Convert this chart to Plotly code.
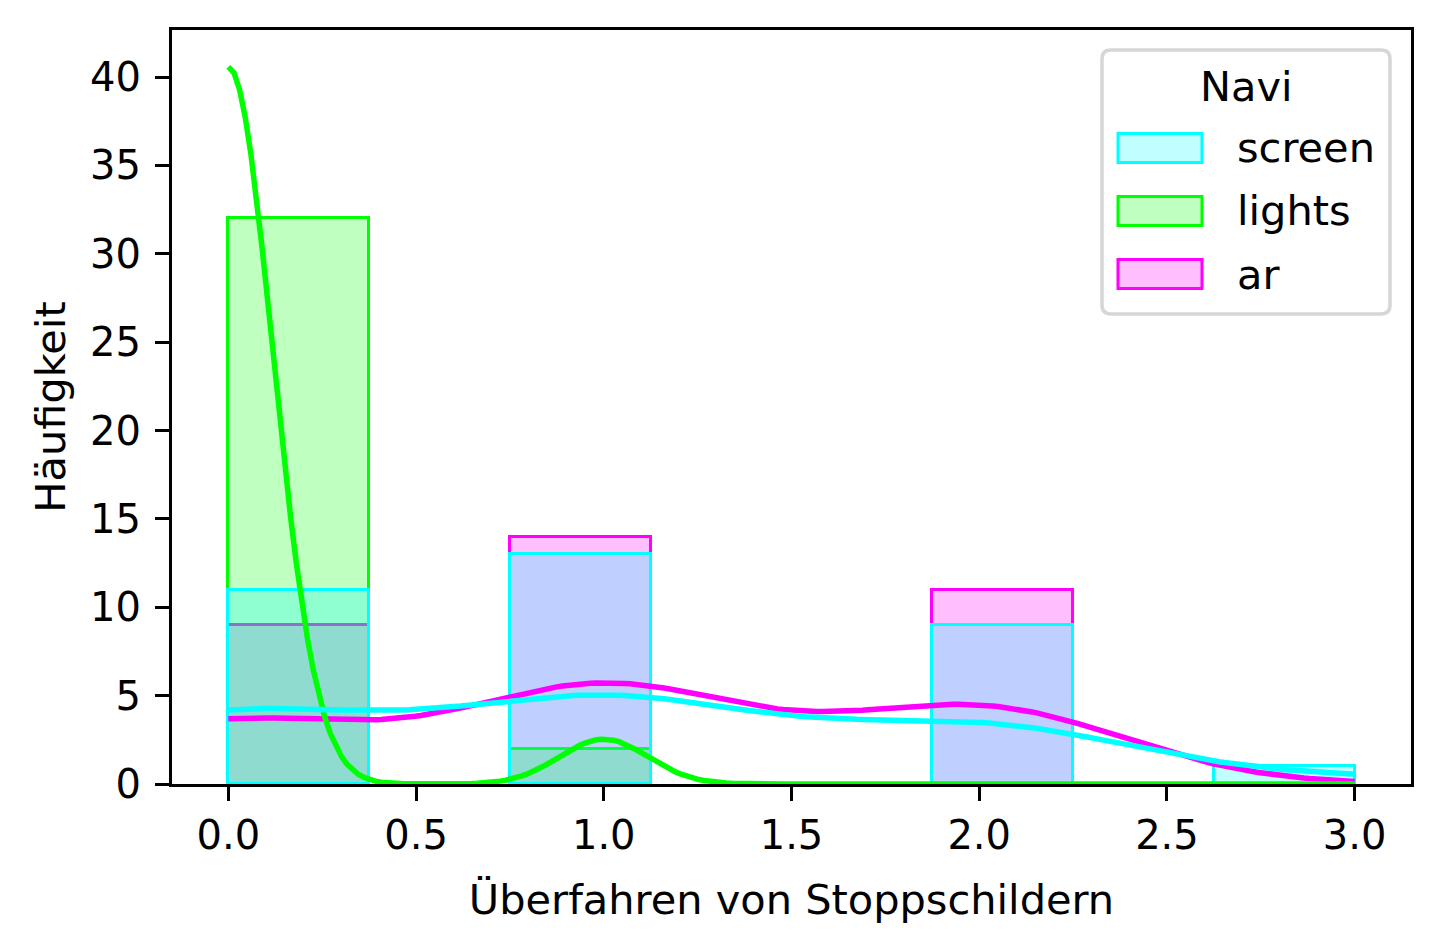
import numpy as np
import plotly.graph_objects as go

# Number of stop signs run per trial, and how many participants per navigation type
values = [0, 1, 2, 3]
screen_counts = [11, 13, 9, 1]
lights_counts = [32, 2, 0, 0]
ar_counts = [9, 14, 11, 0]

groups = ["screen", "lights", "ar"]
colors = {"screen": (0, 255, 255), "lights": (0, 255, 0), "ar": (255, 0, 255)}
counts = {"screen": screen_counts, "lights": lights_counts, "ar": ar_counts}

x_label = "Überfahren von Stoppschildern"
y_label = "Häufigkeit"
legend_title = "Navi"

# histogram settings
n_bins = 8
bin_edges = np.linspace(0, 3, n_bins + 1)
bin_width = bin_edges[1] - bin_edges[0]

FONT = "DejaVu Sans"
FS_TICK = 40
FS_TEXT = 41.5

# plot area in pixels
W_FIG, H_FIG = 1440, 950
L, R, T, B = 172, 1411, 30, 784


def px(xp):
    return (xp - L) / (R - L)


def py(yp):
    return (B - yp) / (B - T)


def rgba(c, a):
    return f"rgba({c[0]},{c[1]},{c[2]},{a})"


def raw(group):
    return np.repeat(np.array(values, dtype=float), counts[group])


def kde_curve(data, grid):
    # Gaussian KDE with Scott's rule, scaled to histogram counts
    n = len(data)
    bw = np.std(data, ddof=1) * n ** (-1 / 5)
    diffs = (grid[:, None] - data[None, :]) / bw
    dens = np.exp(-0.5 * diffs ** 2).sum(axis=1) / (n * bw * np.sqrt(2 * np.pi))
    return dens * n * bin_width


fig = go.Figure()

draw_order = ["ar", "lights", "screen"]

for g in draw_order:
    data = raw(g)
    hist, _ = np.histogram(data, bins=bin_edges)
    mask = hist > 0
    fig.add_trace(go.Bar(
        x=bin_edges[:-1][mask],
        y=hist[mask],
        width=bin_width,
        offset=0,
        marker=dict(color=rgba(colors[g], 0.25),
                    line=dict(color=rgba(colors[g], 1), width=3)),
        name=g,
        showlegend=False,
    ))

all_data = np.concatenate([raw(g) for g in groups])
grid = np.linspace(all_data.min(), all_data.max(), 200)
for g in draw_order:
    fig.add_trace(go.Scatter(
        x=grid,
        y=kde_curve(raw(g), grid),
        mode="lines",
        line=dict(color=rgba(colors[g], 1), width=5.5),
        showlegend=False,
        name=g,
    ))

y_max = 40.63 * 1.05

axis_common = dict(
    showline=True, mirror=True, linecolor="black", linewidth=3.2,
    ticks="outside", ticklen=14, tickwidth=3.2, tickcolor="black",
    showgrid=False, zeroline=False,
    tickfont=dict(family=FONT, size=FS_TICK, color="black"),
    title_font=dict(family=FONT, size=FS_TEXT, color="black"),
)

fig.update_xaxes(
    range=[-0.15, 3.15],
    tickvals=[0, 0.5, 1.0, 1.5, 2.0, 2.5, 3.0],
    tickformat=".1f",
    title_text=x_label,
    title_standoff=28,
    **axis_common,
)
fig.update_yaxes(
    range=[0, y_max],
    tickvals=[0, 5, 10, 15, 20, 25, 30, 35, 40],
    title_text=y_label,
    title_standoff=12,
    ticklabelstandoff=6,
    **axis_common,
)

# legend drawn as shapes and text
shapes = []
annotations = []

fx0, fx1, fy0, fy1 = 1102, 1390, 50, 314
r = 9
path = (
    f"M {px(fx0 + r)} {py(fy0)} L {px(fx1 - r)} {py(fy0)} "
    f"Q {px(fx1)} {py(fy0)} {px(fx1)} {py(fy0 + r)} "
    f"L {px(fx1)} {py(fy1 - r)} Q {px(fx1)} {py(fy1)} {px(fx1 - r)} {py(fy1)} "
    f"L {px(fx0 + r)} {py(fy1)} Q {px(fx0)} {py(fy1)} {px(fx0)} {py(fy1 - r)} "
    f"L {px(fx0)} {py(fy0 + r)} Q {px(fx0)} {py(fy0)} {px(fx0 + r)} {py(fy0)} Z"
)
shapes.append(dict(type="path", xref="paper", yref="paper", path=path,
                   fillcolor="rgba(255,255,255,0.8)",
                   line=dict(color="rgb(214,214,214)", width=3.5)))

annotations.append(dict(xref="paper", yref="paper", x=px(1246), y=py(87),
                        text=legend_title, showarrow=False,
                        xanchor="center", yanchor="middle",
                        font=dict(family=FONT, size=FS_TEXT, color="black")))

patch_tops = [132, 195, 258]
for g, top in zip(groups, patch_tops):
    shapes.append(dict(type="rect", xref="paper", yref="paper",
                       x0=px(1118), x1=px(1202), y0=py(top + 1.5), y1=py(top + 30.5),
                       fillcolor=rgba(colors[g], 0.25),
                       line=dict(color=rgba(colors[g], 1), width=3)))
    annotations.append(dict(xref="paper", yref="paper", x=px(1235), y=py(top + 16),
                            text=g, showarrow=False,
                            xanchor="left", yanchor="middle",
                            font=dict(family=FONT, size=FS_TEXT, color="black")))

fig.update_layout(
    width=W_FIG, height=H_FIG,
    margin=dict(l=L, r=W_FIG - R, t=T, b=H_FIG - B),
    plot_bgcolor="white", paper_bgcolor="white",
    barmode="overlay",
    bargap=0,
    shapes=shapes,
    annotations=annotations,
    showlegend=False,
)

fig.write_html("out.html")
